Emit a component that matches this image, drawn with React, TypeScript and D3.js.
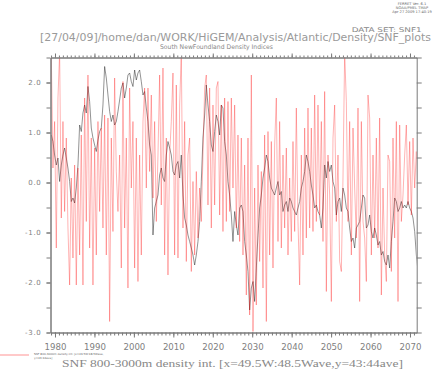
import { useEffect, useRef } from 'react';
import * as d3 from 'd3';

// time axis of both series (years)
const startYear = 1979.06;
const stepYears = 0.4226;

// smoother index (black)
const blackValues = [
  0.95, 0.82, 0.55, 0.35, 0.49, 0.02, 0.35, 0.55, 0.69, 0.49,
  0.29, 0.02, -0.38, -0.31, -0.41, -0.11, 0.35, 1.15, 1.02, 1.39,
  1.55, 1.39, 1.92, 1.62, 1.09, 0.89, 0.75, 0.62, 0.85, 1.02,
  1.09, 1.55, 2.32, 2.09, 1.75, 1.42, 1.22, 1.35, 1.15, 1.22,
  1.42, 1.65, 1.89, 1.99, 1.69, 1.89, 2.15, 2.19, 2.02, 1.92,
  2.25, 2.05, 2.19, 2.25, 2.02, 1.75,
  1.82, 1.49, 1.22, 0.75, 0.55, -1.05, -0.51, -0.38, -0.25, 0.15,
  0.29, 0.09, 0.02, 0.55, 0.82, 0.69, 0.55, 0.22, 0.15, 0.35,
  0.42, 0.09, 0.55, -0.25, -0.71, -0.85, -1.05, -1.18, -1.31, -1.45,
  -1.65, -1.45, -1.18, -0.78, 0.02, 0.89, 1.35, 1.95, 1.55, 1.22,
  0.75, 0.62, 1.02, 1.35, 1.22, 0.95, 1.55, 1.49, 0.82, 0.55,
  0.02, -0.25, -0.65, -1.18, -0.58, -0.85,
  -1.05, -0.51, -0.45, -0.58, -1.18, -1.45, -1.78, -2.55, -2.11, -1.98,
  -2.38, -1.71, -1.05, -0.51, -0.25, 0.09, 0.29, 0.55, 0.42, 0.09,
  -0.11, -0.18, -0.25, -0.11, 0.02, -0.25, -0.18, -0.58, -0.45, -0.38,
  -0.58, -0.31, -0.38, -0.51, -0.58, -0.65, -0.51, -0.38, -0.11, 0.02,
  0.22, 0.55, 0.42, 0.22, -0.05, -0.25, -0.51, -0.45, -0.58, -0.65,
  -0.91, -0.51, 0.35, 0.09, 0.42, 0.22,
  0.35, 0.02, -0.11, -0.65, -0.38, -0.31, -0.58, -0.11, -0.25, -0.51,
  -0.58, -0.91, -1.18, -1.11, -1.31, -0.91, -0.85, -0.78, -0.51, -0.25,
  -0.31, -0.91, -0.85, -0.65, -0.98, -1.11, -0.91, -1.05, -1.25, -1.18,
  -1.45, -1.38, -1.58, -1.65, -1.45, -1.71, -1.18, -0.78, -0.31, -0.38,
  -0.58, -0.51, -0.38, -0.51, -0.45, -0.51, -0.38, -0.51, -0.58, -0.71,
  -0.98, -1.45, -1.78, -2.3,
];

// noisy index (red)
const redValues = [
  2.6, 0.29, 1.22, -1.31, 1.69, 2.6, -0.71, 1.22, -0.58, 0.89,
  -0.91, -2.05, 0.09, -1.51, 0.35, -2.05, 0.29, -1.45, 0.95, -2.05,
  1.69, -0.78, 2.15, -1.31, 0.89, -2.05, 0.69, -1.45, 1.22, -0.58,
  1.09, -0.91, 1.35, -1.45, 1.29, -2.78, 0.89, -0.98, 2.09, 0.22,
  -0.58, 0.55, -1.71, 2.02, -0.91, 0.89, -2.11, 1.89, -0.11, 1.22,
  -1.71, 0.89, -1.98, 0.55, -1.45, 1.22,
  1.89, -0.11, 1.89, 0.22, 1.75, -0.31, 1.22, -0.78, 0.55, 2.15,
  -0.45, 2.29, -1.45, 0.89, -1.85, 0.55, 1.22, 2.19, -1.45, 1.95,
  -1.51, 1.55, 2.6, -0.91, 1.22, -1.58, 0.55, 0.89, -1.78, 0.02,
  -1.45, 0.22, -1.11, -0.11, -0.78, 0.55, 1.89, 2.15, -0.45, 1.89,
  -0.91, 1.55, -0.45, 1.89, 2.02, -0.65, 1.55, -0.98, 1.69, -0.78,
  1.62, -0.58, 1.69, -0.11, 1.55, -0.91,
  0.95, -1.18, 0.89, -1.45, 0.35, -2.25, 0.89, -2.65, 2.15, -2.98,
  -0.11, -2.45, 0.35, -1.58, 0.22, -2.11, 0.95, -2.78, 1.02, -1.45,
  0.82, -1.71, 0.75, 1.69, -1.18, 1.22, -1.31, 0.55, -0.91, 0.69,
  -1.45, 0.09, -1.18, 0.82, -0.98, 1.49, -0.78, -2.05, 0.55, -1.45,
  1.09, -1.11, 1.49, -0.91, 1.09, -0.98, 1.75, -0.78, 1.55, -0.65,
  1.22, -1.18, 1.82, -2.18, 0.55, -0.25,
  -2.38, 0.89, 1.55, -0.78, 0.55, -1.58, -1.78, 0.09, 2.6, 1.62,
  -0.78, 1.22, -1.45, 1.09, -0.11, -1.11, 1.49, -2.38, 1.22, -0.78,
  -1.11, -1.98, 1.75, 1.29, -1.45, 0.55, -1.11, 0.89, -1.31, 1.29,
  -2.25, -0.11, -1.45, -1.98, 0.55, 0.42, -1.78, 0.89, -1.11, 1.22,
  -2.38, 1.15, -0.78, -0.25, 0.55, 1.15, -0.45, 0.82, -0.65, 0.89,
  -0.11, 0.62, -0.25, -0.05,
];

const yMajorTicks = [-3, -2, -1, 0, 1, 2];
const yMinorTicks = [-3, -2.5, -2, -1.5, -1, -0.5, 0, 0.5, 1, 1.5, 2, 2.5];
const decades = [1980, 1990, 2000, 2010, 2020, 2030, 2040, 2050, 2060, 2070];
const years = d3.range(1979, 2072);
const stampLines = ['FERRET Ver. 6.1', 'NOAA/PMEL TMAP', 'Apr 27 2009 17:40:19'];
const legendLines = ['SNF 800-3000m density int. [x=49.5W:48.5Wave,', 'y=43:44ave]'];

export default function App() {
  const ref = useRef<SVGSVGElement>(null);

  useEffect(() => {
    if (!ref.current) return;
    const svg = d3.select(ref.current);
    svg.selectAll('*').remove();

    const left = 50.5, right = 416.7, top = 57.5, bottom = 332.5;
    const x = d3.scaleLinear().domain([1978.86, 2071.7]).range([left, right]);
    const y = d3.scaleLinear().domain([-3, 2.5]).range([bottom, top]);
    const axisCol = '#7a7a7a';
    const textCol = '#808080';

    // header text
    svg.append('g')
      .selectAll('text')
      .data(stampLines)
      .enter()
      .append('text')
      .attr('x', 412)
      .attr('y', (_, i) => 4.5 + i * 4)
      .attr('text-anchor', 'middle')
      .attr('font-family', 'DejaVu Sans')
      .attr('font-size', 3.6)
      .attr('fill', '#666')
      .text(d => d);

    svg.append('text')
      .attr('x', 421.7)
      .attr('y', 31.6)
      .attr('text-anchor', 'end')
      .attr('font-family', 'DejaVu Sans')
      .attr('font-size', 6.4)
      .attr('textLength', 70)
      .attr('lengthAdjust', 'spacingAndGlyphs')
      .attr('fill', '#888')
      .text('DATA SET: SNF1');

    svg.append('text')
      .attr('x', 40)
      .attr('y', 41.3)
      .attr('font-family', 'DejaVu Sans')
      .attr('font-size', 10)
      .attr('textLength', 391)
      .attr('lengthAdjust', 'spacingAndGlyphs')
      .attr('fill', '#9a9a9a')
      .text('[27/04/09]/home/dan/WORK/HiGEM/Analysis/Atlantic/Density/SNF_plots');

    svg.append('text')
      .attr('x', 160)
      .attr('y', 48.8)
      .attr('font-family', 'DejaVu Sans')
      .attr('font-size', 6.4)
      .attr('textLength', 113)
      .attr('lengthAdjust', 'spacingAndGlyphs')
      .attr('fill', '#888')
      .text('South NewFoundland Density Indices');

    // data
    svg.append('defs').append('clipPath').attr('id', 'plot-clip')
      .append('rect')
      .attr('x', left).attr('y', top)
      .attr('width', right - left).attr('height', bottom - top);

    const line = d3.line<number>()
      .x((_, i) => x(startYear + i * stepYears))
      .y(d => y(d));

    const plot = svg.append('g').attr('clip-path', 'url(#plot-clip)');
    plot.append('path')
      .attr('d', line(blackValues))
      .attr('fill', 'none')
      .attr('stroke', '#222')
      .attr('stroke-width', 0.7)
      .attr('opacity', 0.7);
    plot.append('path')
      .attr('d', line(redValues))
      .attr('fill', 'none')
      .attr('stroke', '#ff0000')
      .attr('stroke-width', 0.6)
      .attr('opacity', 0.5);

    // axes
    const styleAxis = (g: d3.Selection<SVGGElement, unknown, null, undefined>) => {
      g.selectAll('path').attr('stroke', axisCol);
      g.selectAll('line').attr('stroke', axisCol);
      g.selectAll('text').attr('fill', textCol).attr('font-family', 'DejaVu Sans');
    };

    svg.append('g').attr('transform', `translate(0,${bottom})`)
      .call(d3.axisBottom(x).tickValues(years).tickSize(3).tickSizeOuter(0).tickFormat(() => ''))
      .call(styleAxis);
    svg.append('g').attr('transform', `translate(0,${bottom})`)
      .call(d3.axisBottom(x).tickValues(decades).tickSize(5).tickSizeOuter(0).tickPadding(6.5).tickFormat(d => String(d)))
      .call(styleAxis)
      .call(g => g.selectAll('text').attr('font-size', 8.6));

    svg.append('g').attr('transform', `translate(0,${top})`)
      .call(d3.axisTop(x).tickValues(years).tickSize(2).tickSizeOuter(0).tickFormat(() => ''))
      .call(styleAxis);
    svg.append('g').attr('transform', `translate(0,${top})`)
      .call(d3.axisTop(x).tickValues(decades).tickSize(4).tickSizeOuter(0).tickFormat(() => ''))
      .call(styleAxis);

    svg.append('g').attr('transform', `translate(${left},0)`)
      .call(d3.axisLeft(y).tickValues(yMinorTicks).tickSize(4).tickSizeOuter(0).tickFormat(() => ''))
      .call(styleAxis);
    svg.append('g').attr('transform', `translate(${left},0)`)
      .call(d3.axisLeft(y).tickValues(yMajorTicks).tickSize(4).tickSizeOuter(0).tickPadding(5).tickFormat(d => (+d).toFixed(1)))
      .call(styleAxis)
      .call(g => g.selectAll('text').attr('font-size', 7).attr('letter-spacing', 0.7));

    svg.append('g').attr('transform', `translate(${right},0)`)
      .call(d3.axisRight(y).tickValues(yMinorTicks).tickSize(5).tickSizeOuter(0).tickFormat(() => ''))
      .call(styleAxis);

    // legend + label
    svg.append('line')
      .attr('x1', 0).attr('x2', 29)
      .attr('y1', 355).attr('y2', 355)
      .attr('stroke', '#ff0000')
      .attr('stroke-width', 0.6)
      .attr('opacity', 0.7);

    svg.append('g')
      .selectAll('text')
      .data(legendLines)
      .enter()
      .append('text')
      .attr('x', 34)
      .attr('y', (_, i) => 354.5 + i * 4)
      .attr('font-family', 'DejaVu Sans')
      .attr('font-size', 2.8)
      .attr('fill', '#666')
      .text(d => d);

    svg.append('text')
      .attr('x', 62)
      .attr('y', 366.5)
      .attr('font-family', 'Liberation Serif')
      .attr('font-size', 10)
      .attr('textLength', 341)
      .attr('lengthAdjust', 'spacingAndGlyphs')
      .attr('fill', '#888')
      .text('SNF 800-3000m density int. [x=49.5W:48.5Wave,y=43:44ave]');
  }, []);

  return (
    <div style={{ position: 'absolute', left: 0, top: 0, width: 440, height: 370, background: '#fff' }}>
      <svg ref={ref} width={440} height={370} />
    </div>
  );
}
